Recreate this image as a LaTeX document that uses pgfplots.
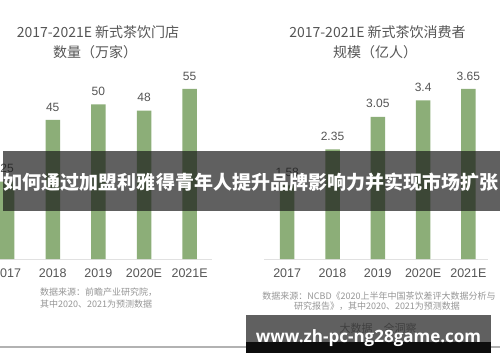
\documentclass[border=0pt]{standalone}
\usepackage{fontspec}
\setmainfont{Liberation Sans}
\newfontfamily\cjk{Noto Sans CJK SC}
\newfontfamily\urlfont{Open Sans}
\usepackage{pgfplots}
\pgfplotsset{compat=1.18}
\definecolor{bargreen}{RGB}{140,174,120}
\definecolor{txtgray}{RGB}{85,85,85}
\definecolor{notegray}{RGB}{150,150,150}
\definecolor{linegray}{RGB}{225,225,225}
\pgfplotsset{
  teabar/.style={
    scale only axis, height=200bp,
    ymin=0, axis x line=bottom, axis y line=none,
    x axis line style={-, draw=linegray, line width=1bp},
    xtick={0,1,2,3,4}, xticklabels={2017,2018,2019,2020E,2021E},
    xtick style={draw=none}, major tick length=0pt,
    xticklabel style={anchor=center, yshift=-14bp, text=txtgray, font=\fontsize{12.5bp}{14bp}\selectfont},
    ybar, bar width=14.5bp, clip=false,
    nodes near coords, point meta=explicit symbolic,
    nodes near coords style={anchor=south, inner sep=0pt, yshift=8.5bp, text=txtgray, font=\fontsize{12bp}{14bp}\selectfont},
  }
}
\begin{document}
\begin{tikzpicture}[x=1bp,y=1bp]
\path[use as bounding box, fill=white] (0,0) rectangle (500,362);
% left chart
\begin{axis}[teabar, at={(0bp,103bp)}, anchor=south west, width=212bp,
  xmin=-0.156, xmax=4.49, ymax=64.7]
\addplot[fill=bargreen, draw=none] coordinates {(0,25)[25] (1,45)[45] (2,50)[50] (3,48)[48] (4,55)[55]};
\end{axis}
% right chart
\begin{axis}[teabar, at={(264bp,103bp)}, anchor=south west, width=224bp,
  xmin=-0.512, xmax=4.433, ymax=4.29]
\addplot[fill=bargreen, draw=none] coordinates {(0,1.58)[1.58] (1,2.35)[2.35] (2,3.05)[3.05] (3,3.4)[3.4] (4,3.65)[3.65]};
\end{axis}
% titles
\node[text=txtgray, font=\cjk\fontsize{14bp}{16bp}\selectfont] at (98,330) {2017-2021E 新式茶饮门店};
\node[text=txtgray, font=\cjk\fontsize{14bp}{16bp}\selectfont] at (95,310) {数量（万家）};
\node[text=txtgray, font=\cjk\fontsize{14bp}{16bp}\selectfont] at (377.5,330) {2017-2021E 新式茶饮消费者};
\node[text=txtgray, font=\cjk\fontsize{14bp}{16bp}\selectfont] at (375,310) {规模（亿人）};
% source notes
\node[anchor=west, inner sep=0pt, text=notegray, font=\cjk\fontsize{9bp}{11bp}\selectfont] at (40,70) {数据来源：前瞻产业研究院，};
\node[anchor=west, inner sep=0pt, text=notegray, font=\cjk\fontsize{9bp}{11bp}\selectfont] at (40,58) {其中2020、2021为预测数据};
\node[inner sep=0pt, text=notegray, font=\cjk\fontsize{9bp}{11bp}\selectfont] at (379,66) {数据来源：NCBD《2020上半年中国茶饮差评大数据分析与};
\node[inner sep=0pt, text=notegray, font=\cjk\fontsize{9bp}{11bp}\selectfont] at (377,56) {研究报告》，其中2020、2021为预测数据};
\node[inner sep=0pt, text=notegray, font=\cjk\fontsize{11bp}{13bp}\selectfont] at (378,34) {大数据\quad 全洞察};
% bottom line
\draw[draw=gray!60, line width=1.5bp] (0,15) -- (500,15);
% middle banner
\fill[black!90, opacity=0.69] (3,151) rectangle (500,211);
\node[text=white, font=\cjk\bfseries\fontsize{19bp}{21bp}\selectfont] at (251,180) {如何通过加盟利雅得青年人提升品牌影响力并实现市场扩张};
% url banner
\fill[black!90, opacity=0.69] (246,20) rectangle (491,47);
\fill[black!95] (246,9) rectangle (491,20);
\node[anchor=base, inner sep=0pt, text=white, font=\urlfont\bfseries\fontsize{17bp}{19bp}\selectfont] at (368.5,19.5) {www.zh-pc-ng28game.com};
\end{tikzpicture}
\end{document}
